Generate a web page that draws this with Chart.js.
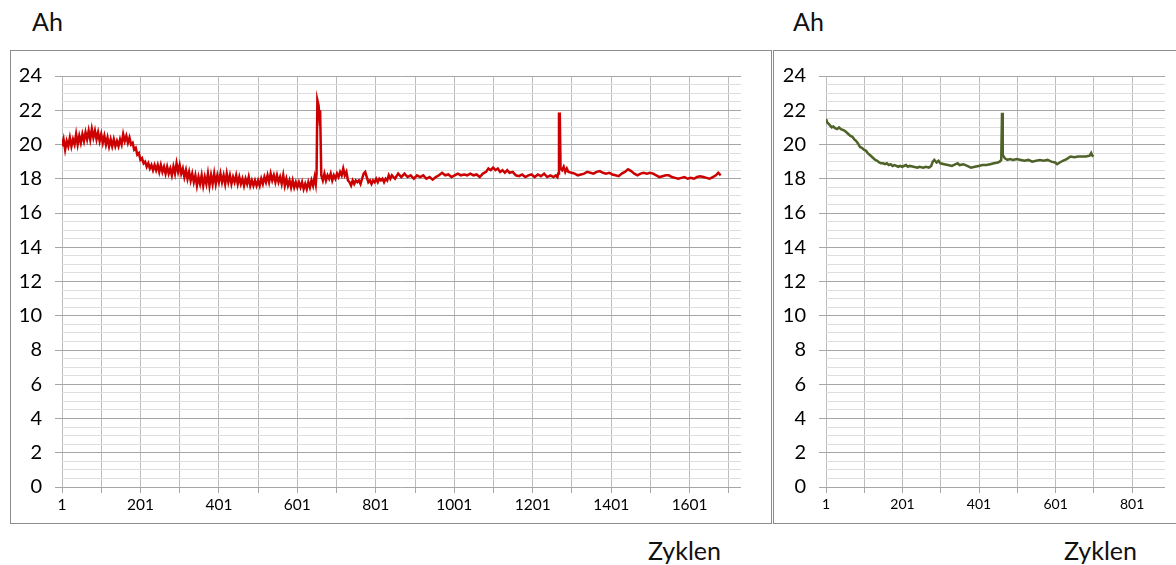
<!DOCTYPE html>
<html>
<head>
<meta charset="utf-8">
<script src="https://cdn.jsdelivr.net/npm/chart.js@4.4.1/dist/chart.umd.min.js"></script>
<style>
  body { margin: 0; width: 1176px; height: 565px; overflow: hidden; background: #fff; position: relative; font-family: Lato, sans-serif; }
  .frame { position: absolute; top: 50px; height: 472px; border: 1px solid #8c8c8c; }
  .txt { position: absolute; font-size: 25px; line-height: 1; color: #111; }
</style>
</head>
<body>
<div class="txt" style="left:32px;top:9px">Ah</div>
<div class="txt" style="left:793px;top:9px">Ah</div>
<div class="frame" style="left:10px;width:760px"><canvas id="left"></canvas></div>
<div class="frame" style="left:773px;width:430px"><canvas id="right"></canvas></div>
<div class="txt" style="left:648px;top:538px">Zyklen</div>
<div class="txt" style="left:1064px;top:538px">Zyklen</div>
<script>
// red series, cycles and capacity (Ah)
const redCycles = [
  1,5,9,13,17,21,25,29,33,37,41,45,49,53,57,61,65,69,73,77,81,85,89,93,97,
  101,105,109,113,117,121,125,129,133,137,141,145,149,153,157,161,165,169,173,177,181,185,189,193,197,
  201,205,209,213,217,221,225,229,233,237,241,245,249,253,257,261,265,269,273,277,281,285,289,293,297,
  301,305,309,313,317,321,325,329,333,337,341,345,349,353,357,361,365,369,373,377,381,385,389,393,397,
  401,405,409,413,417,421,425,429,433,437,441,445,449,453,457,461,465,469,473,477,481,485,489,493,497,
  501,505,509,513,517,521,525,529,533,537,541,545,549,553,557,561,565,569,573,577,581,585,589,593,597,
  601,605,609,613,617,621,625,629,633,637,641,645,648,650,652,655,657,659,662,666,670,674,678,682,686,690,694,698,
  702,706,710,714,718,722,726,730,734,738,742,746,750,754,758,762,766,770,774,778,782,786,790,794,798,
  802,806,810,814,818,822,826,830,834,838,842,850,858,866,874,882,890,898,
  906,914,922,930,938,946,954,962,970,978,986,994,
  1002,1010,1018,1026,1034,1042,1050,1058,1066,1074,1082,1088,1094,1100,
  1106,1112,1118,1124,1130,1136,1142,1150,1158,1166,1174,1182,1190,1198,
  1206,1214,1222,1230,1238,1246,1254,1260,1264,1266,1268,1270,1272,1276,1280,1284,1288,1292,1300,
  1308,1316,1324,1332,1340,1348,1356,1364,1372,1380,1388,1396,
  1404,1412,1420,1428,1436,1444,1452,1460,1468,1476,1484,1492,1500,
  1508,1516,1524,1532,1540,1548,1556,1564,1572,1580,1588,1596,
  1604,1612,1620,1628,1636,1644,1652,1660,1668,1674,1678,1680
];
const redAh = [
  19.9,20.3,19.7,20.2,19.9,20.4,19.9,20.3,20.0,20.6,20.0,20.5,20.1,20.6,20.2,20.7,20.3,20.8,20.3,20.9,20.4,20.8,20.3,20.7,20.2,
  20.6,20.1,20.5,20.0,20.4,19.9,20.3,19.9,20.3,19.9,20.2,19.9,20.3,20.0,20.6,20.2,20.5,20.1,20.4,20.0,20.1,19.7,19.8,19.4,19.5,
  19.1,19.2,18.9,19.0,18.7,18.9,18.6,18.8,18.5,18.8,18.5,18.8,18.4,18.8,18.4,18.7,18.3,18.7,18.3,18.6,18.2,18.7,18.3,18.9,18.4,
  18.8,18.3,18.6,18.1,18.5,18.0,18.4,17.9,18.3,17.8,18.2,17.6,18.1,17.7,18.2,17.6,18.1,17.7,18.3,17.6,18.2,17.7,18.3,17.7,18.2,
  17.8,18.3,17.8,18.2,17.7,18.3,17.8,18.2,17.7,18.1,17.8,18.2,17.7,18.1,17.7,18.0,17.6,18.0,17.7,18.1,17.6,17.9,17.6,17.9,17.6,
  17.9,17.6,18.0,17.7,18.1,17.8,18.2,17.8,18.3,17.9,18.2,17.8,18.2,17.8,18.1,17.7,18.2,17.6,18.0,17.6,17.9,17.5,17.9,17.5,17.8,
  17.5,17.8,17.5,17.8,17.4,17.7,17.4,17.8,17.5,17.9,17.6,18.1,17.7,18.3,22.6,22.3,21.7,22.0,18.2,17.9,18.3,17.9,18.2,18.0,18.3,17.9,18.2,18.0,
  18.3,18.1,18.4,18.2,18.6,18.2,18.4,17.9,17.8,17.6,17.9,17.7,17.9,17.8,17.9,17.7,18.0,18.3,18.4,18.1,17.8,17.9,17.7,17.9,17.8,
  18.0,17.8,18.0,17.9,18.0,17.8,18.0,17.9,18.2,18.0,18.2,18.0,18.3,18.1,18.3,18.1,18.2,18.0,
  18.2,18.1,18.2,18.0,18.1,17.95,18.1,18.2,18.35,18.2,18.25,18.1,
  18.2,18.3,18.2,18.25,18.2,18.3,18.2,18.25,18.1,18.3,18.4,18.6,18.5,18.65,
  18.5,18.6,18.4,18.5,18.35,18.5,18.35,18.4,18.2,18.15,18.25,18.1,18.2,18.25,
  18.1,18.25,18.15,18.3,18.1,18.2,18.1,18.2,18.1,18.3,21.8,21.8,18.6,18.5,18.7,18.4,18.6,18.4,18.35,
  18.3,18.2,18.25,18.3,18.4,18.35,18.3,18.4,18.45,18.35,18.3,18.35,
  18.25,18.2,18.15,18.3,18.4,18.55,18.45,18.3,18.2,18.3,18.35,18.3,18.35,
  18.3,18.2,18.1,18.15,18.2,18.2,18.1,18.05,18.0,18.05,18.1,18.0,
  18.05,18.0,18.1,18.15,18.1,18.05,18.0,18.1,18.2,18.35,18.25,18.3
];

// green series, right panel
const greenCycles = [
  1,4,8,12,16,20,25,30,35,40,45,50,55,60,65,70,75,80,85,90,95,100,
  105,110,115,120,125,130,135,140,145,150,155,160,165,170,175,180,190,195,200,
  210,215,220,230,240,245,255,262,270,276,280,284,290,295,300,
  310,320,330,340,345,350,360,370,380,390,400,
  410,420,430,440,450,455,459,461,463,468,475,482,490,500,
  510,520,530,540,550,560,570,580,590,600,605,612,620,630,640,650,660,670,680,690,694,697,700
];
const greenAh = [
  21.5,21.3,21.2,21.1,21.0,21.05,20.95,20.9,21.0,20.9,20.85,20.8,20.7,20.6,20.5,20.45,20.3,20.2,20.05,19.85,19.8,19.7,
  19.65,19.5,19.4,19.3,19.2,19.1,19.05,18.95,18.9,18.9,18.85,18.9,18.8,18.85,18.75,18.8,18.7,18.75,18.7,
  18.8,18.7,18.75,18.7,18.65,18.7,18.65,18.7,18.65,18.75,19.0,19.1,18.95,19.05,18.9,
  18.85,18.8,18.75,18.85,18.9,18.8,18.85,18.75,18.65,18.7,18.75,
  18.8,18.8,18.85,18.9,18.95,19.0,19.1,21.85,19.4,19.2,19.1,19.15,19.1,19.15,
  19.1,19.05,19.1,19.0,19.05,19.1,19.05,19.1,19.0,18.95,18.85,18.95,19.05,19.15,19.3,19.25,19.3,19.3,19.3,19.35,19.5,19.35,19.3
];

// axes
const yMajor = [0, 2, 4, 6, 8, 10, 12, 14, 16, 18, 20, 22, 24];
const yMinorStep = 0.5;
const leftGrid = [1,101,201,301,401,501,601,701,801,901,1001,1101,1201,1301,1401,1501,1601,1701];
const leftLabels = [1,201,401,601,801,1001,1201,1401,1601];
const rightGrid = [1,101,201,301,401,501,601,701,801];
const rightLabels = [1,201,401,601,801];

Chart.defaults.font.family = "Lato, sans-serif";
Chart.defaults.color = "#000";

const yTicks = [];
for (let v = 0; v <= 24; v += yMinorStep) yTicks.push(v);

function makeChart(id, cycles, ah, color, xMax, grid, labels, xFont, padRight) {
  return new Chart(document.getElementById(id), {
    type: "line",
    data: {
      datasets: [{
        data: cycles.map((c, i) => ({ x: c, y: ah[i] })),
        borderColor: color,
        borderWidth: 2.5,
        pointRadius: 0,
        tension: 0
      }]
    },
    options: {
      responsive: true,
      maintainAspectRatio: false,
      animation: false,
      layout: { padding: { top: 19, right: padRight, left: 0, bottom: 0 } },
      plugins: { legend: { display: false }, tooltip: { enabled: false } },
      scales: {
        x: {
          type: "linear",
          min: 1,
          max: xMax,
          afterBuildTicks: s => { s.ticks = grid.map(v => ({ value: v })); },
          afterFit: s => { s.height = 36; },
          border: { display: false },
          grid: { color: "#bdbdbd", tickColor: "#a6a6a6", tickLength: 6 },
          ticks: {
            autoSkip: false, maxRotation: 0, padding: 3,
            font: { size: xFont },
            callback: v => labels.includes(v) ? String(v) : ""
          }
        },
        y: {
          min: 0,
          max: 24,
          afterBuildTicks: s => { s.ticks = yTicks.map(v => ({ value: v })); },
          afterFit: s => { s.width = id === "left" ? 51 : 52; },
          border: { display: false },
          grid: {
            color: c => yMajor.includes(c.tick.value) ? "#a6a6a6" : "#dedede",
            tickColor: c => yMajor.includes(c.tick.value) ? "#a6a6a6" : "rgba(0,0,0,0)",
            tickLength: 7
          },
          ticks: {
            autoSkip: false, padding: 13,
            font: { size: 20 },
            callback: v => yMajor.includes(v) ? String(v) : ""
          }
        }
      }
    }
  });
}

makeChart("left", redCycles, redAh, "#cc0000", 1732, leftGrid, leftLabels, 15.5, 30);
makeChart("right", greenCycles, greenAh, "#4f6228", 887, rightGrid, rightLabels, 14, 39);
</script>
</body>
</html>
